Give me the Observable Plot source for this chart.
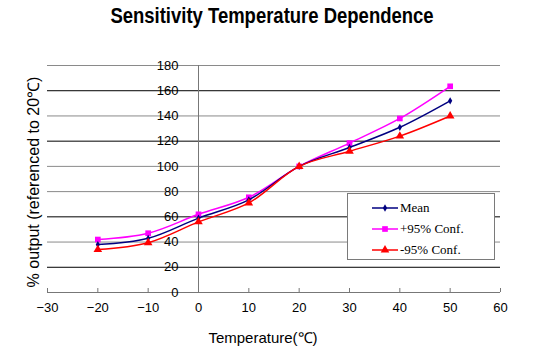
<!DOCTYPE html>
<html>
<head>
<meta charset="utf-8">
<script src="https://cdn.jsdelivr.net/npm/d3@7"></script>
<script src="https://cdn.jsdelivr.net/npm/@observablehq/plot@0.6"></script>
<style>
  html, body { margin: 0; padding: 0; background: #fff; }
  #wrap { position: relative; width: 537px; height: 354px; overflow: hidden; font-family: "Liberation Sans", Arial, sans-serif; }
  #title { position: absolute; left: 272px; top: 16px; transform: translate(-50%, -50%) scaleX(0.84); white-space: nowrap; font-family: "Liberation Sans", Arial, sans-serif; font-weight: bold; font-size: 22px; color: #000; }
  #chart { position: absolute; left: 0; top: 40px; }
  #ylabel { position: absolute; left: 33px; top: 182px; transform: translate(-50%, -50%) rotate(-90deg); white-space: nowrap; font-size: 16px; color: #000; }
  #xlabel { position: absolute; left: 263px; top: 337px; transform: translate(-50%, -50%); white-space: nowrap; font-size: 15px; color: #000; }
  #legend { position: absolute; left: 347px; top: 193px; width: 146px; height: 65px; border: 1px solid #7a7a7a; background: #fff; }
  .row { position: absolute; left: 0; height: 18px; }
  .row svg { position: absolute; left: 24px; top: 0; }
  .row span { position: absolute; left: 52px; top: 0; line-height: 18px; font-family: "Liberation Serif", "DejaVu Serif", serif; font-size: 13px; white-space: nowrap; color: #000; }
</style>
</head>
<body>
<div id="wrap">
  <div id="title"></div>
  <div id="chart"></div>
  <div id="ylabel"></div>
  <div id="xlabel"></div>
  <div id="legend"></div>
</div>
<script>
const titleText = "Sensitivity Temperature Dependence";
const xTitle = "Temperature(℃)";
const yTitle = "% output (referenced to 20℃)";

const temps = [-20, -10, 0, 10, 20, 30, 40, 50];
const meanVals = [38, 43, 59, 73.5, 100, 115, 131, 152];
const plusVals = [42, 47, 62, 75.5, 100, 118.5, 138, 163.5];
const minusVals = [34, 39.5, 56, 71, 100, 112, 124, 140];

const seriesNames = ["Mean", "+95% Conf.", "-95% Conf."];
const seriesColors = ["#000080", "#ff00ff", "#ff0000"];
const seriesSymbols = ["diamond", "square", "triangle"];
const seriesR = [2.2, 3.2, 3.2];

const xTicks = [-30, -20, -10, 0, 10, 20, 30, 40, 50, 60];
const yTicks = [0, 20, 40, 60, 80, 100, 120, 140, 160, 180];
const gridDark = [20, 60, 120, 160];
const gridLight = [40, 80, 100, 140, 180];

const seriesVals = [meanVals, plusVals, minusVals];
const series = seriesNames.map((name, i) => ({
  name, color: seriesColors[i], symbol: seriesSymbols[i], r: seriesR[i],
  data: temps.map((t, j) => ({t, v: seriesVals[i][j]}))
}));

document.getElementById("title").textContent = titleText;
document.getElementById("xlabel").textContent = xTitle;
document.getElementById("ylabel").textContent = yTitle;

const H = 314, mT = 25, mB = 62;
const drawOrder = [1, 0, 2];
const seriesMarks = [];
for (const i of drawOrder) {
  const s = series[i];
  seriesMarks.push(Plot.line(s.data, {x: "t", y: "v", stroke: s.color, strokeWidth: 1.5, curve: "catmull-rom"}));
  seriesMarks.push(Plot.dot(s.data, {x: "t", y: "v", fill: s.color, symbol: s.symbol, r: s.r}));
}

const chart = Plot.plot({
  width: 537, height: H,
  marginTop: mT, marginBottom: mB, marginLeft: 47, marginRight: 37,
  style: {fontFamily: "Liberation Sans, Arial, sans-serif", fontSize: "13px", color: "#000", background: "transparent"},
  x: {domain: [-30, 60], axis: null},
  y: {domain: [0, 180], axis: null},
  marks: [
    Plot.ruleY(gridLight, {y: d => d, stroke: "#8a8a8a", strokeWidth: 1}),
    Plot.ruleY(gridDark, {y: d => d, stroke: "#000", strokeWidth: 1}),
    Plot.ruleY([0], {stroke: "#777"}),
    Plot.ruleX([0], {stroke: "#777"}),
    Plot.tickX(xTicks, {x: d => d, stroke: "#777", insetTop: H - mT - mB - 4}),
    Plot.axisX(xTicks, {tickSize: 0, tickPadding: 10, fontSize: 13, label: null, fill: "#000"}),
    Plot.text(yTicks, {x: 0, y: d => d, text: d => String(d), textAnchor: "end", dx: -20, fontSize: 13, fill: "#000"}),
    ...seriesMarks
  ]
});
document.getElementById("chart").appendChild(chart);

// legend
const legend = d3.select("#legend");
const rowTops = [5, 26, 47];
series.forEach((s, i) => {
  const row = legend.append("div").attr("class", "row").style("top", rowTops[i] + "px").style("width", "146px");
  const svg = row.append("svg").attr("width", 27).attr("height", 18);
  svg.append("line").attr("x1", 0).attr("x2", 26).attr("y1", 9).attr("y2", 9).attr("stroke", s.color).attr("stroke-width", 1.5);
  const sym = {diamond: d3.symbolDiamond, square: d3.symbolSquare, triangle: d3.symbolTriangle}[s.symbol];
  svg.append("path").attr("d", d3.symbol(sym, Math.PI * s.r * s.r)()).attr("transform", "translate(13,9)").attr("fill", s.color);
  row.append("span").text(s.name);
});
</script>
</body>
</html>
